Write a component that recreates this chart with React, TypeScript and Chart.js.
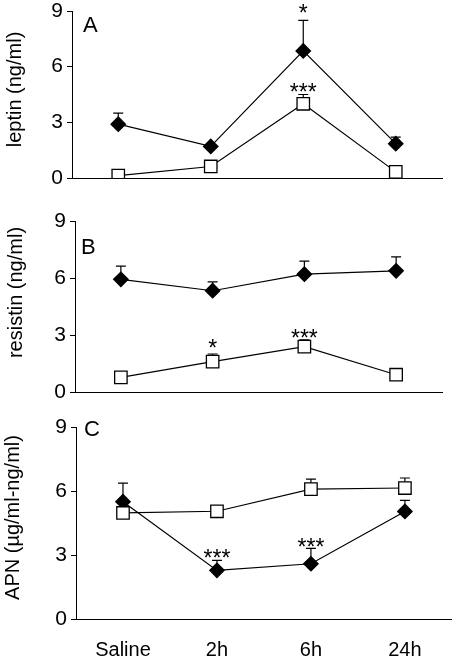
import React, { useEffect, useRef } from "react";
import { Chart, registerables } from "chart.js";

Chart.register(...registerables);

const FONT = '"Liberation Sans", Arial, Helvetica, sans-serif';

const categories = ["Saline", "2h", "6h", "24h"];
const yTickValues = [0, 3, 6, 9];

// Panel A: leptin
const leptinTreated = [2.9, 1.7, 6.85, 1.85];
const leptinTreatedSem = [0.6, 0.1, 1.65, 0.35];
const leptinTreatedStars = ["", "", "*", ""];
const leptinTreatedStarY = [0, 0, 9.15, 0];
const leptinControl = [0.13, 0.62, 4.0, 0.33];
const leptinControlSem = [0, 0, 0.5, 0];
const leptinControlStars = ["", "", "***", ""];
const leptinControlStarY = [0, 0, 4.9, 0];

// Panel B: resistin
const resistinTreated = [5.93, 5.33, 6.2, 6.38];
const resistinTreatedSem = [0.69, 0.47, 0.69, 0.73];
const resistinTreatedStars = ["", "", "", ""];
const resistinTreatedStarY = [0, 0, 0, 0];
const resistinControl = [0.77, 1.6, 2.39, 0.91];
const resistinControlSem = [0, 0.4, 0.35, 0];
const resistinControlStars = ["", "*", "***", ""];
const resistinControlStarY = [0, 2.57, 3.06, 0];

// Panel C: APN
const apnTreated = [5.5, 2.28, 2.59, 5.04];
const apnTreatedSem = [0.87, 0.47, 0.72, 0.52];
const apnTreatedStars = ["", "***", "***", ""];
const apnTreatedStarY = [0, 3.07, 3.58, 0];
const apnControl = [4.97, 5.05, 6.09, 6.14];
const apnControlSem = [0, 0, 0.47, 0.47];
const apnControlStars = ["", "", "", ""];
const apnControlStarY = [0, 0, 0, 0];

type Series = {
  values: number[];
  sem: number[];
  stars: string[];
  starY: number[];
  filled: boolean;
};

type PanelProps = {
  top: number;
  height: number;
  yWidth: number;
  padTop: number;
  padRight: number;
  xHeight: number;
  showX: boolean;
  title: string;
  titleX: number;
  titleY: number;
  letter: string;
  letterX: number;
  letterY: number;
  series: Series[];
};

function Panel(p: PanelProps) {
  const ref = useRef<HTMLCanvasElement | null>(null);
  useEffect(() => {
    const canvas = ref.current;
    if (!canvas) return;

    const plugin = {
      id: "panelDecor",
      beforeDatasetsDraw(chart: any) {
        const { ctx, scales } = chart;
        const x = scales.x;
        const y = scales.y;
        ctx.save();
        ctx.strokeStyle = "#000";
        ctx.lineWidth = 1.2;
        p.series.forEach((s) => {
          s.values.forEach((v, i) => {
            const e = s.sem[i];
            if (!e) return;
            const px = x.getPixelForValue(i);
            const y0 = y.getPixelForValue(v);
            const y1 = y.getPixelForValue(v + e);
            ctx.beginPath();
            ctx.moveTo(px, y0);
            ctx.lineTo(px, y1);
            ctx.moveTo(px - 5, y1);
            ctx.lineTo(px + 5, y1);
            ctx.stroke();
          });
        });
        ctx.restore();
      },
      afterDraw(chart: any) {
        const { ctx, scales } = chart;
        const x = scales.x;
        const y = scales.y;
        ctx.save();
        ctx.fillStyle = "#000";
        // significance stars
        ctx.font = `23px ${FONT}`;
        ctx.textAlign = "center";
        ctx.textBaseline = "alphabetic";
        p.series.forEach((s) => {
          s.stars.forEach((t, i) => {
            if (!t) return;
            const px = x.getPixelForValue(i);
            const py = y.getPixelForValue(s.starY[i]);
            const m = ctx.measureText(t);
            const off = (m.actualBoundingBoxAscent - m.actualBoundingBoxDescent) / 2;
            ctx.fillText(t, px, py + off);
          });
        });
        // panel letter
        ctx.font = `22px ${FONT}`;
        ctx.textAlign = "left";
        ctx.textBaseline = "alphabetic";
        ctx.fillText(p.letter, p.letterX, p.letterY);
        // y title
        ctx.font = `20px ${FONT}`;
        ctx.translate(p.titleX, p.titleY);
        ctx.rotate(-Math.PI / 2);
        ctx.textAlign = "center";
        ctx.textBaseline = "middle";
        ctx.fillText(p.title, 0, 0);
        ctx.restore();
      },
    };

    const datasets = p.series.map((s) => ({
      data: s.values,
      borderColor: "#000",
      borderWidth: 1.2,
      tension: 0,
      fill: false,
      pointStyle: s.filled ? "rectRot" : "rect",
      pointRadius: s.filled ? 7.2 : 8.8,
      pointHoverRadius: s.filled ? 7.2 : 8.8,
      pointBackgroundColor: s.filled ? "#000" : "#fff",
      pointBorderColor: "#000",
      pointBorderWidth: 1.3,
      order: s.filled ? 1 : 0,
    }));

    const chart = new Chart(canvas, {
      type: "line",
      data: { labels: categories, datasets: datasets as any },
      options: {
        animation: false,
        responsive: false,
        maintainAspectRatio: false,
        devicePixelRatio: 1,
        layout: { padding: { left: 0, right: p.padRight, top: p.padTop, bottom: 0 } },
        plugins: { legend: { display: false }, tooltip: { enabled: false } },
        scales: {
          x: {
            type: "category",
            offset: true,
            grid: { display: false, drawTicks: false },
            border: { display: true, color: "#000", width: 1 },
            ticks: {
              display: p.showX,
              color: "#000",
              font: { family: FONT, size: 20 },
              padding: 19,
              maxRotation: 0,
              autoSkip: false,
            },
            afterFit: (s: any) => {
              s.height = p.xHeight;
              s.paddingLeft = 0;
              s.paddingRight = 0;
            },
          },
          y: {
            min: 0,
            max: 9,
            afterBuildTicks: (s: any) => {
              s.ticks = yTickValues.map((v) => ({ value: v }));
            },
            grid: {
              display: true,
              drawOnChartArea: false,
              drawTicks: true,
              tickLength: 5,
              color: "#000",
              lineWidth: 1,
            },
            border: { display: true, color: "#000", width: 1 },
            ticks: {
              color: "#000",
              font: { family: FONT, size: 21 },
              padding: 4,
            },
            afterFit: (s: any) => {
              s.width = p.yWidth;
              s.paddingTop = 0;
              s.paddingBottom = 0;
            },
          },
        },
      } as any,
      plugins: [plugin],
    });
    return () => chart.destroy();
  }, []);
  return (
    <canvas
      ref={ref}
      width={462}
      height={p.height}
      style={{ position: "absolute", left: 0, top: p.top, display: "block" }}
    />
  );
}

export default function App() {
  return (
    <div
      style={{
        position: "absolute",
        left: 0,
        top: 0,
        width: 462,
        height: 659,
        background: "#fff",
        overflow: "hidden",
      }}
    >
      <Panel
        top={0}
        height={200}
        yWidth={72}
        padTop={11}
        padRight={20}
        xHeight={22}
        showX={false}
        title="leptin (ng/ml)"
        titleX={15}
        titleY={89.5}
        letter="A"
        letterX={83}
        letterY={32.3}
        series={[
          { values: leptinTreated, sem: leptinTreatedSem, stars: leptinTreatedStars, starY: leptinTreatedStarY, filled: true },
          { values: leptinControl, sem: leptinControlSem, stars: leptinControlStars, starY: leptinControlStarY, filled: false },
        ]}
      />
      <Panel
        top={200}
        height={215}
        yWidth={75}
        padTop={21}
        padRight={20}
        xHeight={23}
        showX={false}
        title="resistin (ng/ml)"
        titleX={16}
        titleY={92.5}
        letter="B"
        letterX={81}
        letterY={54}
        series={[
          { values: resistinTreated, sem: resistinTreatedSem, stars: resistinTreatedStars, starY: resistinTreatedStarY, filled: true },
          { values: resistinControl, sem: resistinControlSem, stars: resistinControlStars, starY: resistinControlStarY, filled: false },
        ]}
      />
      <Panel
        top={415}
        height={244}
        yWidth={76}
        padTop={12}
        padRight={2}
        xHeight={40}
        showX={true}
        title="APN (µg/ml-ng/ml)"
        titleX={13.5}
        titleY={102.5}
        letter="C"
        letterX={84}
        letterY={20.7}
        series={[
          { values: apnTreated, sem: apnTreatedSem, stars: apnTreatedStars, starY: apnTreatedStarY, filled: true },
          { values: apnControl, sem: apnControlSem, stars: apnControlStars, starY: apnControlStarY, filled: false },
        ]}
      />
    </div>
  );
}
